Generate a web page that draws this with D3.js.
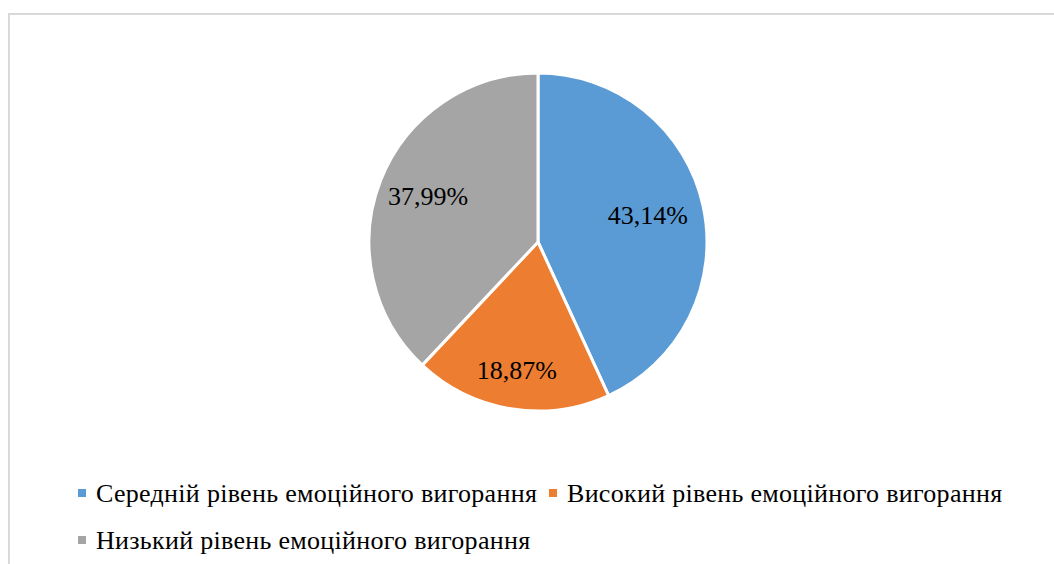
<!DOCTYPE html>
<html><head><meta charset="utf-8">
<script src="https://cdn.jsdelivr.net/npm/d3@7"></script>
<style>body{margin:0;background:#fff}svg{display:block}
text{font-family:"Liberation Serif","Times New Roman",Tinos,"DejaVu Serif",serif}</style>
</head><body>
<svg id="c" width="1054" height="564"></svg>
<script>
const categories = ["Середній рівень емоційного вигорання", "Високий рівень емоційного вигорання", "Низький рівень емоційного вигорання"];
const values = [43.14, 18.87, 37.99];
const labels = ["43,14%", "18,87%", "37,99%"];
const colors = ["#5B9BD5", "#ED7D31", "#A5A5A5"];

const svg = d3.select("#c");
const W = 1054, H = 564;
svg.append("rect").attr("x", 9).attr("y", 14).attr("width", W).attr("height", H)
  .attr("fill", "#fff").attr("stroke", "#d9d9d9").attr("stroke-width", 2);

const cx = 538, cy = 242, R = 169;
const labelFactor = [0.665, 0.78, 0.70];
const pie = d3.pie().sort(null).value(d => d)(values);
const arc = d3.arc().innerRadius(0).outerRadius(R);
const g = svg.append("g").attr("transform", `translate(${cx},${cy})`);
g.selectAll("path").data(pie).join("path")
  .attr("d", arc).attr("fill", (d, i) => colors[i])
  .attr("stroke", "#fff").attr("stroke-width", 3).attr("stroke-linejoin", "round");
g.selectAll("text").data(pie).join("text")
  .attr("transform", (d, i) => {
    const a = d3.arc().innerRadius(R * labelFactor[i]).outerRadius(R * labelFactor[i]);
    const [x, y] = a.centroid(d);
    return `translate(${x},${y})`;
  })
  .attr("text-anchor", "middle").attr("dy", "0.25em")
  .attr("font-size", 26).attr("fill", "#000")
  .text((d, i) => labels[i]);

const legendPos = [[78, 493], [549, 493], [78, 540]];
const lg = svg.append("g");
categories.forEach((c, i) => {
  const [x, y] = legendPos[i];
  lg.append("rect").attr("x", x).attr("y", y - 4).attr("width", 8).attr("height", 8).attr("fill", colors[i]);
  lg.append("text").attr("x", x + 18).attr("y", y).attr("dy", "0.35em")
    .attr("font-size", 26).attr("letter-spacing", 0.3).attr("fill", "#000").text(c);
});
</script>
</body></html>
